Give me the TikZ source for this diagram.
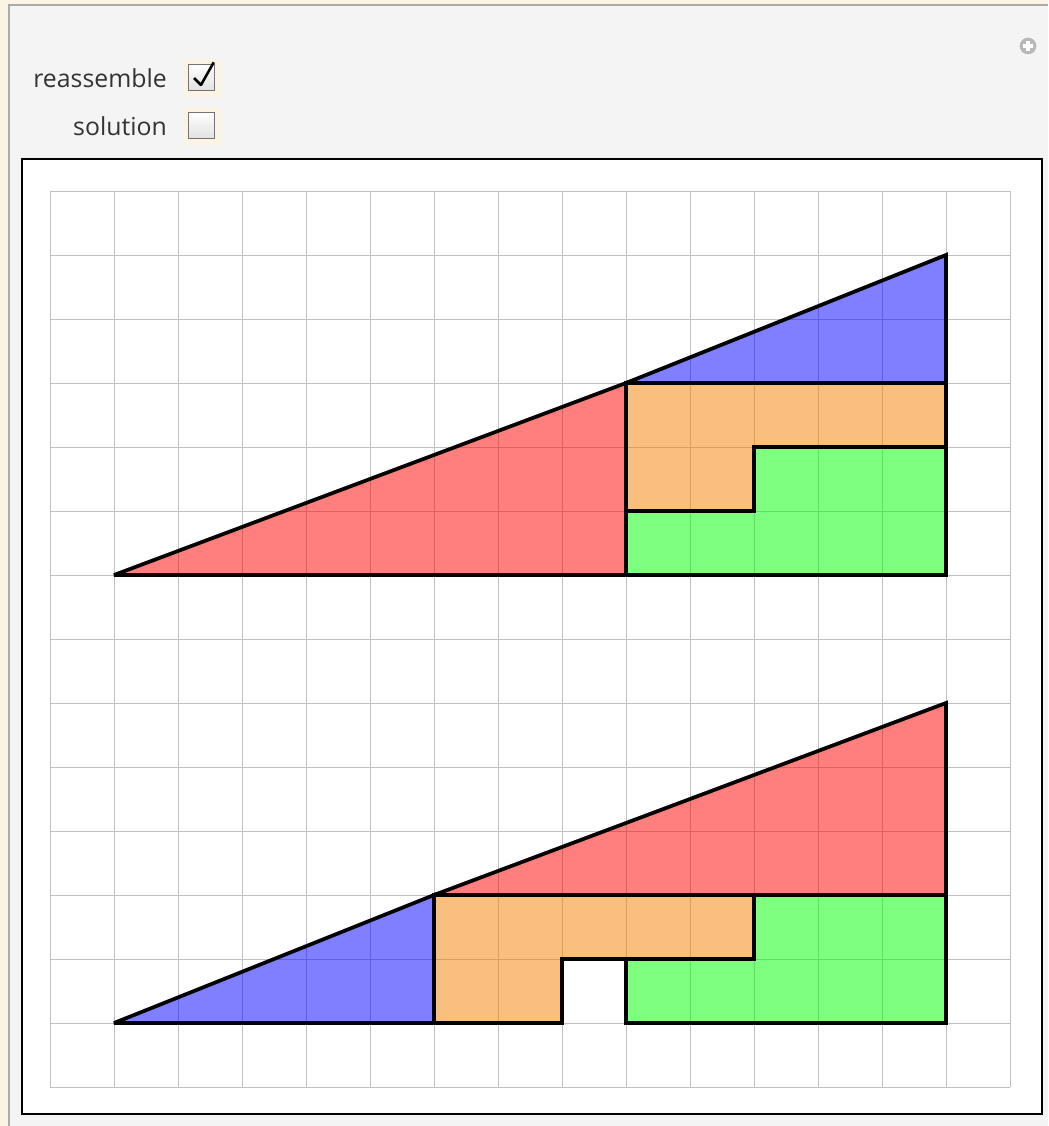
\documentclass[tikz,border=0pt]{standalone}
\usepackage{fontspec}
\setmainfont{Open Sans}
\definecolor{pzbeige} {RGB}{251,244,228}
\definecolor{pzframe} {RGB}{170,170,170}
\definecolor{pzpanel} {RGB}{244,244,244}
\definecolor{pzgrid}  {RGB}{192,192,192}
\definecolor{pzred}   {RGB}{255,0,0}
\definecolor{pzblue}  {RGB}{0,0,255}
\definecolor{pzgreen} {RGB}{0,255,0}
\definecolor{pzorange}{RGB}{247,127,0}
\usetikzlibrary{positioning}
\tikzset{
  piece/.style={draw=black,line width=2.8pt,miter limit=2,fill=#1,fill opacity=0.5},
  piece/.default=pzred,
  gridline/.style={draw=pzgrid,line width=0.7pt},
  lbl/.style={font=\fontsize{18.6}{22}\selectfont,text=black!80,
              anchor=base east,inner sep=0pt},
  chkhalo/.style={rectangle,fill=pzbeige,minimum size=29pt,inner sep=0pt},
  chkbox/.style={rectangle,draw=black!55,line width=0.8pt,top color=white,
                 bottom color=black!12,minimum size=20pt,inner sep=0pt},
}

\begin{document}
\begin{tikzpicture}[x=0.75pt,y=-0.75pt]
    \useasboundingbox (0,0) rectangle (1048,1126);
    % panel
    \fill[pzbeige] (0,0) rectangle (1048,1126);
    \fill[pzpanel] (9,5) rectangle (1048,1126);
    \draw[pzframe,line width=1.6pt] (9,1126) |- (1048,5);
    % controls
    \node[lbl] (lblre) at (167,88) {reassemble};
    \node[lbl] (lblsol) at (167,136) {solution};
    \node[chkhalo] (halore) at (203,78) {};
    \node[chkhalo] (halosol) at (203,126) {};
    \node[chkbox] (chkre) at (201.5,77.5) {};
    \node[chkbox] (chksol) at (201.5,125.5) {};
    \draw[line width=1.9pt,line join=round]
      ([shift={(-5.6pt,-0.4pt)}]chkre.center) --
      ([shift={(-0.4pt,-5.6pt)}]chkre.center) --
      ([shift={(9.2pt,11.4pt)}]chkre.center);
    \node[circle,fill=black!28,minimum size=12.5pt,inner sep=0pt] (plus) at (1028,46) {};
    \draw[white,line width=2.4pt]
      ([xshift=-4pt]plus.center) -- ([xshift=4pt]plus.center)
      ([yshift=-4pt]plus.center) -- ([yshift=4pt]plus.center);
    % board
    \draw[line width=2pt,fill=white] (22,159) rectangle (1042,1114);
    \begin{scope}[shift={(50,1087)},x=48pt,y=48pt]
      \foreach \gx in {0,...,15}
        \draw[gridline] (\gx,0) -- (\gx,14);
      \foreach \gy in {0,...,14}
        \draw[gridline] (0,\gy) -- (15,\gy);
      % before
      \draw[piece=pzred]    (1,8) -- (9,8) -- (9,11) -- cycle;
      \draw[piece=pzblue]   (9,11) -- (14,13) -- (14,11) -- cycle;
      \draw[piece=pzorange] (9,11) -- (14,11) -- (14,10) -- (11,10) -- (11,9) -- (9,9) -- cycle;
      \draw[piece=pzgreen]  (9,8) -- (9,9) -- (11,9) -- (11,10) -- (14,10) -- (14,8) -- cycle;
      % after
      \draw[piece=pzblue]   (1,1) -- (6,1) -- (6,3) -- cycle;
      \draw[piece=pzred]    (6,3) -- (14,6) -- (14,3) -- cycle;
      \draw[piece=pzorange] (6,1) -- (6,3) -- (11,3) -- (11,2) -- (8,2) -- (8,1) -- cycle;
      \draw[piece=pzgreen]  (9,1) -- (9,2) -- (11,2) -- (11,3) -- (14,3) -- (14,1) -- cycle;
    \end{scope}
  \end{tikzpicture}
\end{document}
